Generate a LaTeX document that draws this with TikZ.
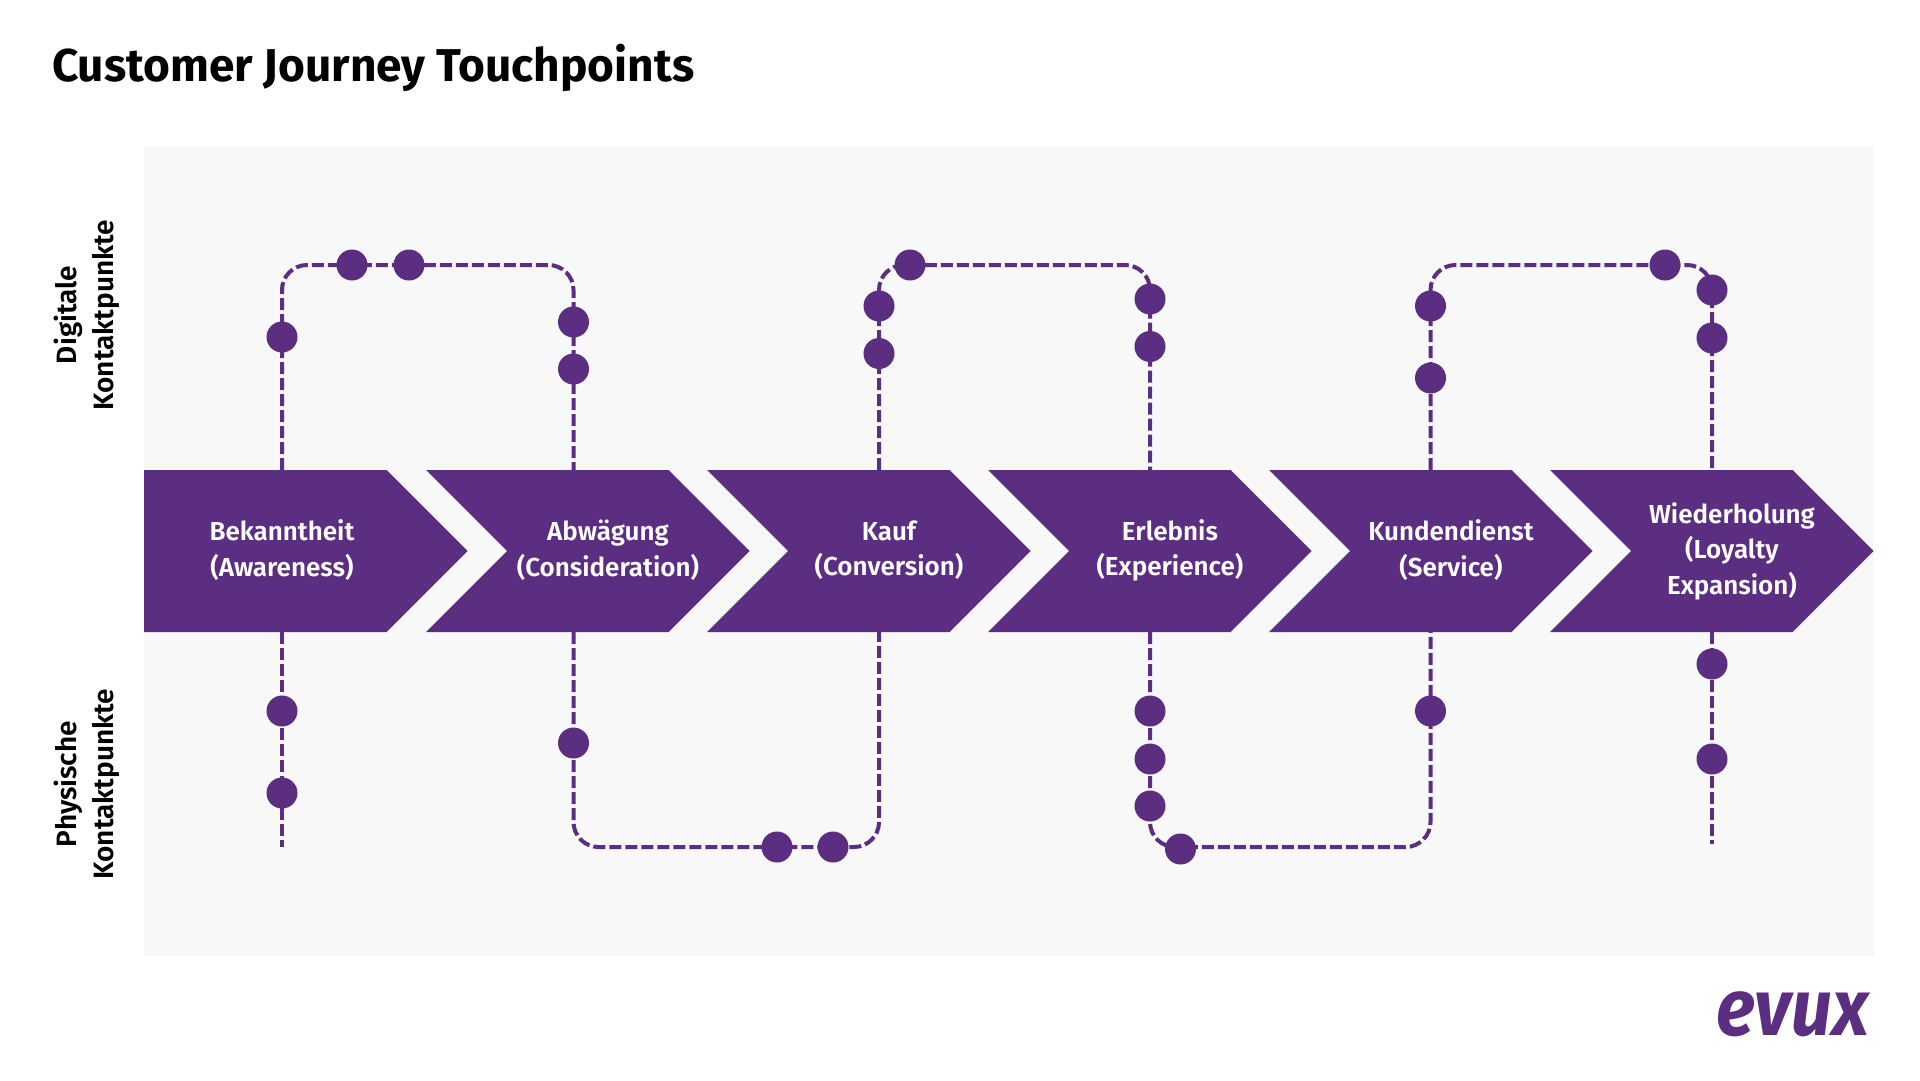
\documentclass[tikz,border=0pt]{standalone}
\usepackage{fontspec}
\usepackage{graphicx}
\setmainfont{Fira Sans}
\newfontfamily\labelfont{Fira Sans SemiBold}
\usetikzlibrary{positioning}
\usetikzlibrary{shapes.symbols}
\definecolor{evuxpurple}{HTML}{5B2E82}
\definecolor{panelgrey}{HTML}{F8F8F8}
\tikzset{phase node/.style={signal,signal to=east,signal from=west,signal pointer angle=90,fill=evuxpurple,minimum width=323.5pt,minimum height=162pt,inner sep=0pt} }
\tikzset{first phase/.style={phase node,signal from=nowhere} }
\tikzset{phase text/.style={text=white,align=center,font=\labelfont\fontsize{26}{35.5}\selectfont} }
\tikzset{side text/.style={text=black,align=center,rotate=90,font=\labelfont\fontsize{28}{37}\selectfont} }
\tikzset{dot node/.style={circle,fill=evuxpurple,minimum size=31pt,inner sep=0pt} }
\tikzset{touch line/.style={draw=evuxpurple,line width=4pt,dash pattern=on 12pt off 4pt,rounded corners=25pt} }

\begin{document}
\begin{tikzpicture}[x=1pt,y=-1pt]
\useasboundingbox (0,0) rectangle (1920,1080);
\fill[panelgrey] (144,146) rectangle (1874,956);

\node[anchor=base west,inner sep=0pt,font=\fontsize{46}{50}\selectfont\bfseries] (title) at (52,81) {Customer Journey Touchpoints};
\node[anchor=base east,inner sep=0pt,text=evuxpurple,font=\fontsize{80}{80}\selectfont\bfseries\itshape] (logo) at (1869,1035) {\scalebox{.91}[1]{evux}};

\node[side text] (digital) at (87,315) {Digitale\\Kontaktpunkte};
\node[side text] (physical) at (87,784) {Physische\\Kontaktpunkte};

\begin{scope}[on grid]

  \node[first phase,anchor=west] (1) at (144,551) {};
  \node[phase node] (2) [right =322.5pt of 1] {};
  \node[phase node] (3) [right =281pt of 2] {};
  \node[phase node] (4) [right =281pt of 3] {};
  \node[phase node] (5) [right =281pt of 4] {};
  \node[phase node] (6) [right =281pt of 5] {};

  \node[phase text] (t1) at ([xshift=16.5pt,yshift=.7pt]1.center) {Bekanntheit\\(Awareness)};
  \node[phase text] (t2) at ([xshift=20pt,yshift=.7pt]2.center) {Abwägung\\(Consideration)};
  \node[phase text] (t3) at ([xshift=20pt,yshift=.7pt]3.center) {Kauf\\(Conversion)};
  \node[phase text] (t4) at ([xshift=20pt,yshift=.7pt]4.center) {Erlebnis\\(Experience)};
  \node[phase text] (t5) at ([xshift=20pt,yshift=.7pt]5.center) {Kundendienst\\(Service)};
  \node[phase text] (t6) at ([xshift=20pt]6.center) {Wiederholung\\(Loyalty\\Expansion)};

  % ends of the lines at the phases
  \coordinate (up1) at (282,470);
  \coordinate (up2) at (573.5,470);
  \coordinate (up3) at (879,470);
  \coordinate (up4) at (1150,470);
  \coordinate (up5) at (1430.5,470);
  \coordinate (up6) at (1712,470);
  \coordinate (low1) at (282,632);
  \coordinate (low2) at (573.5,632);
  \coordinate (low3) at (879,632);
  \coordinate (low4) at (1150,632);
  \coordinate (low5) at (1430.5,632);
  \coordinate (low6) at (1712,632);
  \coordinate (end1) at (282,847);
  \coordinate (end6) at (1712,844);
  \coordinate (top1) at (430,265);
  \coordinate (top2) at (1000,265);
  \coordinate (top3) at (1570,265);
  \coordinate (bot1) at (730,847);
  \coordinate (bot2) at (1290,847);

  \draw[touch line] (up1) |- (top1) -| (up2);
  \draw[touch line] (up3) |- (top2) -| (up4);
  \draw[touch line] (up5) |- (top3) -| (up6);
  \draw[touch line] (low1) -- (end1);
  \draw[touch line] (low2) |- (bot1) -| (low3);
  \draw[touch line] (low4) |- (bot2) -| (low5);
  \draw[touch line] (low6) -- (end6);

  \node[dot node] (a1) at (282,337) {};
  \node[dot node] (a2) at (352,265) {};
  \node[dot node] (a3) at (409,265) {};
  \node[dot node] (a4) at (573.5,322) {};
  \node[dot node] (a5) at (573.5,369) {};
  \node[dot node] (a6) at (879,306) {};
  \node[dot node] (a7) at (879,353.5) {};
  \node[dot node] (a8) at (910,265) {};
  \node[dot node] (a9) at (1150,299) {};
  \node[dot node] (a10) at (1150,346.5) {};
  \node[dot node] (a11) at (1430.5,306) {};
  \node[dot node] (a12) at (1430.5,378) {};
  \node[dot node] (a13) at (1665,265) {};
  \node[dot node] (a14) at (1712,290) {};
  \node[dot node] (a15) at (1712,338) {};

  \node[dot node] (b1) at (282,711) {};
  \node[dot node] (b2) at (282,793) {};
  \node[dot node] (b3) at (573.5,743) {};
  \node[dot node] (b4) at (777,847) {};
  \node[dot node] (b5) at (833,847) {};
  \node[dot node] (b6) at (1150,711) {};
  \node[dot node] (b7) at (1150,759) {};
  \node[dot node] (b8) at (1150,806) {};
  \node[dot node] (b9) at (1180.5,849) {};
  \node[dot node] (b10) at (1430.5,711) {};
  \node[dot node] (b11) at (1712,664) {};
  \node[dot node] (b12) at (1712,759) {};
\end{scope}
\end{tikzpicture}
\end{document}
